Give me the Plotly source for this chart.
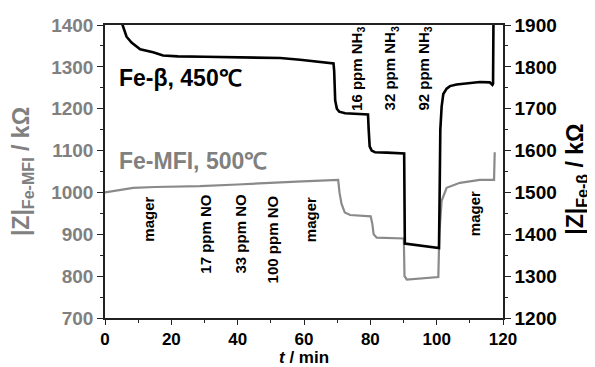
import plotly.graph_objects as go

# ---- data ----
# Fe-beta, 450 C (right axis, kOhm)
t_beta = [0, 4, 5.3, 6.5, 8.0, 10.6, 14.5, 17.5, 22, 30, 40, 48, 52.8, 58.8, 64.8, 68.9,
          69.1, 69.4, 69.9, 70.6, 72.4, 76, 79.3, 79.5, 79.8, 80.4, 81.4, 85, 90.2,
          90.4, 95, 100.7, 100.9, 101.1, 101.5, 102, 103, 104, 106, 109, 113, 116,
          116.8, 117.0, 117.2]
z_beta = [2000, 1925, 1900, 1872, 1858, 1842, 1835, 1827, 1825, 1824, 1823, 1822, 1821, 1817, 1812, 1808,
          1790, 1720, 1700, 1693, 1689, 1688, 1686, 1650, 1610, 1600, 1596, 1595, 1593,
          1378, 1373, 1367, 1500, 1650, 1705, 1735, 1748, 1754, 1758, 1761, 1764, 1763,
          1757, 1760, 2000]

# Fe-MFI, 500 C (left axis, kOhm)
t_mfi = [0, 3, 8.5, 15, 28.6, 40, 52.8, 57.8, 65, 70.3, 70.7, 71.3, 72.3, 73.9, 80.1,
         80.6, 81.0, 81.9, 90.1, 90.3, 91.0, 95, 100.5, 100.8, 101.5, 103, 107, 113,
         117.3, 117.5]
z_mfi = [1000, 1004, 1011, 1013, 1015, 1019, 1025, 1026, 1028, 1030, 1000, 973, 952, 946, 943,
         925, 900, 892, 890, 800, 792, 794, 798, 900, 980, 1011, 1023, 1030,
         1030, 1096]

# gas-phase labels: (text, t position, left-axis value at label centre)
gas_labels = ["mager", "17 ppm NO", "33 ppm NO", "100 ppm NO", "mager",
              "16 ppm NH<sub>3</sub>", "32 ppm NH<sub>3</sub>", "92 ppm NH<sub>3</sub>", "mager"]
gas_t = [13.1, 30.4, 40.9, 50.5, 61.8, 76.1, 86.2, 96.2, 111.5]
gas_y = [936, 901, 901, 889, 936, 1296, 1296, 1296, 950]

x_ticks = [0, 20, 40, 60, 80, 100, 120]
left_ticks = [700, 800, 900, 1000, 1100, 1200, 1300, 1400]
right_ticks = [1200, 1300, 1400, 1500, 1600, 1700, 1800, 1900]

GREY = "#808080"
GREY_LINE = "#8a8a8a"
FONT = "Liberation Sans, Arial, sans-serif"

fig = go.Figure()
fig.add_trace(go.Scatter(x=t_mfi, y=z_mfi, mode="lines", yaxis="y",
                         line=dict(color=GREY_LINE, width=2.2), showlegend=False))
fig.add_trace(go.Scatter(x=t_beta, y=z_beta, mode="lines", yaxis="y2",
                         line=dict(color="black", width=2.6), showlegend=False))

axis_common = dict(showgrid=False, zeroline=False, showline=True, linecolor="#222",
                   linewidth=1.5, ticks="outside", ticklen=6, tickwidth=1.3, tickcolor="#222",
                   ticklabeloverflow="allow")

# the page body keeps its default 8px margin, so the figure is 8px smaller
fig.update_layout(
    width=587, height=359,
    margin=dict(l=97, r=92, t=7, b=49),
    paper_bgcolor="white", plot_bgcolor="white",
    font=dict(family=FONT, weight=700, color="black"),
    xaxis=dict(range=[0, 120], tickvals=x_ticks, mirror=True,
               minor=dict(dtick=10, ticklen=3, ticks="outside", tickcolor="#222", tickwidth=1.3),
               tickfont=dict(family=FONT, size=17, weight=700, color="black"),
               **{**axis_common, "ticklen": 5}),
    yaxis=dict(range=[700, 1400], tickvals=left_ticks,
               minor=dict(dtick=50, ticklen=3, ticks="outside", tickcolor="#222", tickwidth=1.3),
               tickfont=dict(family=FONT, size=19, weight=700, color=GREY),
               **axis_common),
    yaxis2=dict(range=[1200, 1900], tickvals=right_ticks, overlaying="y", side="right",
                minor=dict(dtick=50, ticklen=3, ticks="outside", tickcolor="#222", tickwidth=1.3),
                tickfont=dict(family=FONT, size=19, weight=700, color="black"),
                **axis_common),
)

# gas labels
for txt, tx, ty in zip(gas_labels, gas_t, gas_y):
    fig.add_annotation(x=tx, y=ty, xref="x", yref="y", text=txt, textangle=-90,
                       showarrow=False, xanchor="center", yanchor="middle",
                       font=dict(family=FONT, size=15, weight=700, color="black"))

# sample labels
fig.add_annotation(x=3.5, y=1273, xref="x", yref="y", text="Fe-β, 450℃", showarrow=False,
                   xanchor="left", yanchor="middle",
                   font=dict(family=FONT, size=23, weight=700, color="black"))
fig.add_annotation(x=3.5, y=1075, xref="x", yref="y", text="Fe-MFI, 500℃", showarrow=False,
                   xanchor="left", yanchor="middle",
                   font=dict(family=FONT, size=23, weight=700, color=GREY))

# axis titles
fig.add_annotation(x=-0.2085, y=0.498, xref="paper", yref="paper",
                   text="|Z|<sub>Fe-MFI</sub> / kΩ", textangle=-90, showarrow=False,
                   xanchor="center", yanchor="middle",
                   font=dict(family=FONT, size=23, weight=700, color=GREY))
fig.add_annotation(x=1.186, y=0.472, xref="paper", yref="paper",
                   text="|Z|<sub>Fe-β</sub> / kΩ", textangle=-90, showarrow=False,
                   xanchor="center", yanchor="middle",
                   font=dict(family=FONT, size=23, weight=700, color="black"))
fig.add_annotation(x=0.5, y=-0.135, xref="paper", yref="paper",
                   text="<i>t</i> / min", showarrow=False, borderpad=0,
                   xanchor="center", yanchor="middle",
                   font=dict(family=FONT, size=17, weight=700, color="black"))

fig.write_html("out.html")
